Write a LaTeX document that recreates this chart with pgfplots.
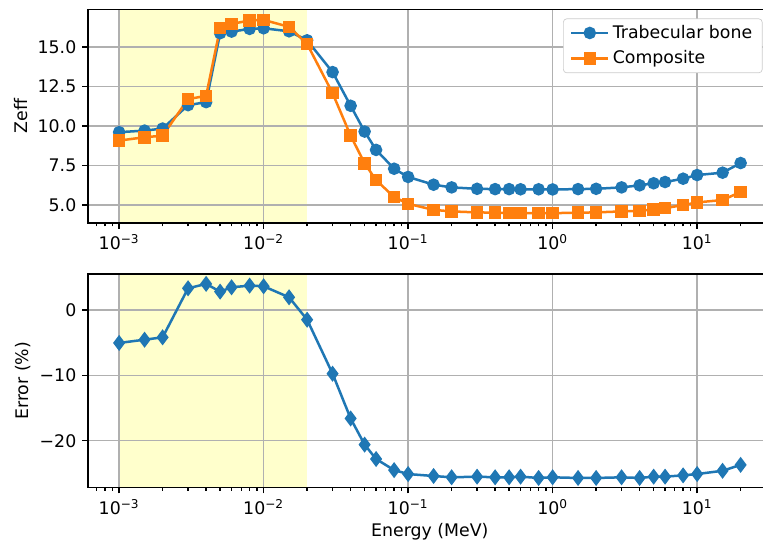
\documentclass[border=0pt]{standalone}
\usepackage{pgfplots}
\pgfplotsset{compat=1.18}
\usepackage{pgfplotstable}
\usepackage{fontspec}
\setmainfont{DejaVu Sans}

\definecolor{cblue}{HTML}{1F77B4}
\definecolor{corange}{HTML}{FF7F0E}
\definecolor{band}{HTML}{FFFFCC}
\definecolor{gridgray}{HTML}{B0B0B0}

% energy (MeV), Zeff trabecular bone, Zeff composite, error (%)
\pgfplotstableread{
E      trab   comp   err
0.001  9.61   9.08   -5.05
0.0015 9.71   9.29   -4.55
0.002  9.84   9.39   -4.19
0.003  11.32  11.70  3.31
0.004  11.51  11.91  3.98
0.005  15.87  16.20  2.80
0.006  15.97  16.46  3.46
0.008  16.14  16.67  3.72
0.01   16.18  16.71  3.62
0.015  15.99  16.27  1.93
0.02   15.42  15.19  -1.49
0.03   13.41  12.08  -9.75
0.04   11.28  9.39   -16.6
0.05   9.65   7.64   -20.6
0.06   8.49   6.58   -22.8
0.08   7.30   5.51   -24.5
0.1    6.78   5.08   -25.1
0.15   6.29   4.70   -25.4
0.2    6.12   4.60   -25.6
0.3    6.03   4.54   -25.5
0.4    6.01   4.52   -25.6
0.5    6.01   4.49   -25.6
0.6    6.00   4.49   -25.5
0.8    6.00   4.49   -25.7
1      5.99   4.49   -25.6
1.5    6.01   4.52   -25.7
2      6.03   4.54   -25.7
3      6.12   4.60   -25.6
4      6.25   4.64   -25.7
5      6.38   4.73   -25.5
6      6.46   4.81   -25.5
8      6.67   5.00   -25.3
10     6.90   5.17   -25.1
15     7.05   5.32   -24.6
20     7.66   5.83   -23.7
}\datatable

\pgfplotsset{
  every axis/.append style={
    scale only axis,
    width=410.2pt, height=128.2pt,
    xmin=6.09e-4, xmax=32.8,
    tick align=outside, tick pos=left,
    major tick length=3.5pt, minor tick length=2pt,
    tick style={black, line width=0.8pt},
    axis line style={line width=0.8pt},
    grid=major,
    major grid style={gridgray, line width=0.8pt},
    tick label style={font=\fontsize{10.4}{12.5}\selectfont},
    label style={font=\fontsize{10.4}{12.5}\selectfont}
  }
}

\begin{document}
\begin{tikzpicture}

\begin{semilogxaxis}[set layers, name=top, at={(0,0)}, anchor=north west,
    xtick={1e-3,1e-2,1e-1,1,10},
    xticklabels={10\textsuperscript{−3},10\textsuperscript{−2},10\textsuperscript{−1},10\textsuperscript{0},10\textsuperscript{1}},
    minor xtick={7e-4,8e-4,9e-4,2e-3,3e-3,4e-3,5e-3,6e-3,7e-3,8e-3,9e-3,
      0.02,0.03,0.04,0.05,0.06,0.07,0.08,0.09,0.2,0.3,0.4,0.5,0.6,0.7,0.8,0.9,
      2,3,4,5,6,7,8,9,20,30},
    ymin=3.87, ymax=17.38,
    ytick={5,7.5,10,12.5,15},
    yticklabels={5.0,7.5,10.0,12.5,15.0},
    ylabel={Zeff},
    ylabel style={at={(axis description cs:-0.098,0.5)}, anchor=center},
    legend cell align=left,
    legend style={at={(axis description cs:1,1)}, anchor=north east,
      xshift=-5.5pt, yshift=-5.5pt, draw=gray!40, fill=white,
      rounded corners=2pt, font=\fontsize{10.4}{12.5}\selectfont,
      row sep=2pt, inner xsep=4pt, inner ysep=1.8pt},
    legend image code/.code={\draw[mark repeat=2, mark phase=2]
      plot coordinates {(0cm,0cm) (0.39cm,0cm) (0.78cm,0cm)};},
  ]
  \addplot[draw=none, fill=band, on layer=axis background, forget plot]
    coordinates {(0.001,3.87) (0.001,17.38) (0.02,17.38) (0.02,3.87)};
  \addplot[cblue, line width=1.5pt, mark=*, mark size=3pt,
    mark options={fill=cblue, draw=cblue}]
    table[x=E, y=trab] {\datatable};
  \addlegendentry{Trabecular bone}
  \addplot[corange, line width=1.5pt, mark=square*, mark size=3pt,
    mark options={fill=corange, draw=corange}]
    table[x=E, y=comp] {\datatable};
  \addlegendentry{Composite}
\end{semilogxaxis}

\begin{semilogxaxis}[set layers, name=bottom, at={(0,-158.8pt)}, anchor=north west,
    xtick={1e-3,1e-2,1e-1,1,10},
    xticklabels={10\textsuperscript{−3},10\textsuperscript{−2},10\textsuperscript{−1},10\textsuperscript{0},10\textsuperscript{1}},
    minor xtick={7e-4,8e-4,9e-4,2e-3,3e-3,4e-3,5e-3,6e-3,7e-3,8e-3,9e-3,
      0.02,0.03,0.04,0.05,0.06,0.07,0.08,0.09,0.2,0.3,0.4,0.5,0.6,0.7,0.8,0.9,
      2,3,4,5,6,7,8,9,20,30},
    ymin=-27.18, ymax=5.5,
    ytick={-20,-10,0},
    yticklabels={−20,−10,0},
    ylabel={Error (\%)},
    ylabel style={at={(axis description cs:-0.095,0.5)}, anchor=center},
    xlabel={Energy (MeV)},
    xlabel style={at={(axis description cs:0.5,0)}, anchor=center, yshift=-26.2pt},
  ]
  \addplot[draw=none, fill=band, on layer=axis background, forget plot]
    coordinates {(0.001,-27.18) (0.001,5.5) (0.02,5.5) (0.02,-27.18)};
  \addplot[cblue, line width=1.5pt, mark=diamond*, mark size=3.6pt,
    mark options={fill=cblue, draw=cblue}]
    table[x=E, y=err] {\datatable};
\end{semilogxaxis}

\pgfresetboundingbox
\useasboundingbox (-52.8pt,5.58pt) rectangle (405pt,-319pt);
\end{tikzpicture}
\end{document}
